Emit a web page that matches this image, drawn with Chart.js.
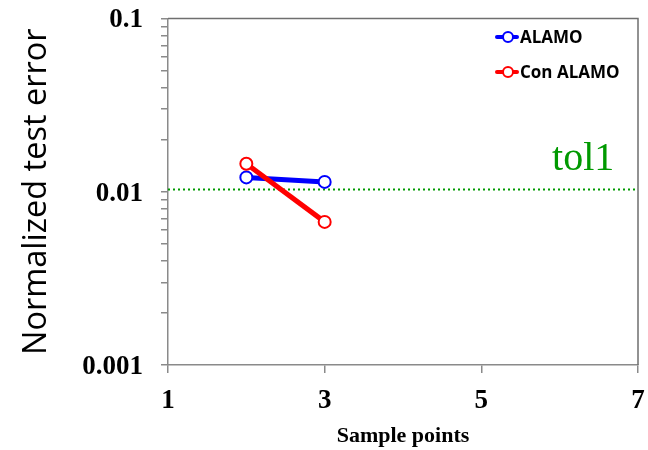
<!DOCTYPE html>
<html>
<head>
<meta charset="utf-8">
<script src="https://cdn.jsdelivr.net/npm/chart.js@4"></script>
<style>
  html, body { margin: 0; padding: 0; background: #fff; }
  #wrap { width: 648px; height: 450px; }
</style>
</head>
<body>
<div id="wrap"><canvas id="c" width="648" height="450"></canvas></div>
<script>
// Sample counts on the x axis and the normalized test error of each model
const xTicks = [1, 3, 5, 7];
const samplePoints = [2, 3];
const alamoError = [0.0121, 0.0114];
const conAlamoError = [0.0145, 0.0067];
const yDecades = [0.001, 0.01, 0.1];
const tolerance = 0.0103;
const toleranceLabel = 'tol1';

const GREEN = 'rgb(0,153,0)';
const AXIS_GRAY = '#8a8a8a';

// Caption above the tolerance line
const toleranceCaption = {
  id: 'toleranceCaption',
  afterDatasetsDraw(chart) {
    const { ctx, scales } = chart;
    const y = scales.y.getPixelForValue(tolerance);
    const x = scales.x.getPixelForValue(6.3);
    ctx.save();
    ctx.fillStyle = GREEN;
    ctx.font = '40px "Liberation Serif", "Times New Roman", serif';
    ctx.textAlign = 'center';
    ctx.textBaseline = 'alphabetic';
    ctx.fillText(toleranceLabel, x, y - 20);
    ctx.restore();
  }
};

// Frame around the plot area (top and right edges)
const plotFrame = {
  id: 'plotFrame',
  beforeDatasetsDraw(chart) {
    const { ctx, chartArea: a } = chart;
    ctx.save();
    ctx.strokeStyle = '#6f6f6f';
    ctx.lineWidth = 1.5;
    ctx.beginPath();
    ctx.moveTo(a.left, a.top);
    ctx.lineTo(a.right, a.top);
    ctx.lineTo(a.right, a.bottom);
    ctx.stroke();
    ctx.restore();
  }
};

// Legend drawn inside the plot: line + open circle, then the series name
const insideLegend = {
  id: 'insideLegend',
  afterDraw(chart) {
    const { ctx } = chart;
    const items = chart.data.datasets.filter(d => d.showInLegend);
    ctx.save();
    items.forEach((d, i) => {
      const y = 37 + i * 35;
      const x0 = 497, x1 = 517, cx = 508;
      ctx.strokeStyle = d.borderColor;
      ctx.lineWidth = 4;
      ctx.lineCap = 'round';
      ctx.beginPath();
      ctx.moveTo(x0, y);
      ctx.lineTo(x1, y);
      ctx.stroke();
      ctx.fillStyle = '#fff';
      ctx.lineWidth = 2;
      ctx.beginPath();
      ctx.arc(cx, y, 5, 0, Math.PI * 2);
      ctx.fill();
      ctx.stroke();
      ctx.fillStyle = '#000';
      ctx.font = 'bold 17px "Open Sans", sans-serif';
      ctx.textAlign = 'left';
      ctx.textBaseline = 'middle';
      ctx.fillText(d.label, 520, y + 1);
    });
    ctx.restore();
  }
};

const toXY = (xs, ys) => xs.map((x, i) => ({ x, y: ys[i] }));

new Chart(document.getElementById('c'), {
  type: 'line',
  data: {
    datasets: [
      {
        label: 'ALAMO',
        showInLegend: true,
        data: toXY(samplePoints, alamoError),
        borderColor: 'rgb(0,0,255)',
        backgroundColor: '#fff',
        borderWidth: 5,
        pointRadius: 6,
        pointBorderWidth: 2,
        pointBackgroundColor: '#fff',
        pointBorderColor: 'rgb(0,0,255)',
        order: 1
      },
      {
        label: 'Con ALAMO',
        showInLegend: true,
        data: toXY(samplePoints, conAlamoError),
        borderColor: 'rgb(255,0,0)',
        backgroundColor: '#fff',
        borderWidth: 5,
        pointRadius: 6,
        pointBorderWidth: 2,
        pointBackgroundColor: '#fff',
        pointBorderColor: 'rgb(255,0,0)',
        order: 0
      },
      {
        label: toleranceLabel,
        showInLegend: false,
        data: [{ x: xTicks[0], y: tolerance }, { x: xTicks[xTicks.length - 1], y: tolerance }],
        borderColor: GREEN,
        borderWidth: 2,
        borderDash: [2, 3],
        pointRadius: 0,
        order: 2
      }
    ]
  },
  options: {
    responsive: false,
    animation: false,
    events: [],
    layout: { padding: { left: 0, right: 10, top: 18.5, bottom: 0 } },
    plugins: { legend: { display: false }, tooltip: { enabled: false } },
    scales: {
      x: {
        type: 'linear',
        min: xTicks[0],
        max: xTicks[xTicks.length - 1],
        afterBuildTicks(scale) { scale.ticks = xTicks.map(v => ({ value: v })); },
        afterFit(scale) {
          scale.height = 85;
          scale.paddingLeft = 0;
          scale.paddingRight = 0;
        },
        grid: { drawOnChartArea: false, tickLength: 8, color: AXIS_GRAY, lineWidth: 1.5 },
        border: { color: AXIS_GRAY, width: 1.5 },
        ticks: {
          padding: 12,
          color: '#000',
          font: { family: '"Liberation Serif", "Times New Roman", serif', size: 27, weight: 'bold' }
        },
        title: {
          display: true,
          text: 'Sample points',
          color: '#000',
          padding: { top: 0, bottom: 0 },
          font: { family: '"Liberation Serif", "Times New Roman", serif', size: 22, weight: 'bold' }
        }
      },
      y: {
        type: 'logarithmic',
        min: yDecades[0],
        max: yDecades[yDecades.length - 1],
        afterBuildTicks(scale) {
          const t = [];
          for (let d = 0; d < yDecades.length - 1; d++) {
            for (let m = 1; m <= 9; m++) t.push({ value: yDecades[d] * m, major: m === 1 });
          }
          t.push({ value: yDecades[yDecades.length - 1], major: true });
          scale.ticks = t;
        },
        afterFit(scale) {
          scale.width = 168;
          scale.paddingTop = 0;
          scale.paddingBottom = 0;
        },
        grid: { drawOnChartArea: false, tickLength: 7, color: AXIS_GRAY, lineWidth: 1.5 },
        border: { color: AXIS_GRAY, width: 1.5 },
        ticks: {
          padding: 18,
          labelOffset: 2,
          color: '#000',
          autoSkip: false,
          callback(v) { return yDecades.includes(v) ? String(v) : ''; },
          font: { family: '"Liberation Serif", "Times New Roman", serif', size: 27, weight: 'bold' }
        },
        title: {
          display: true,
          text: 'Normalized test error',
          color: '#000',
          padding: { top: 17, bottom: 0 },
          font: { family: '"Open Sans", sans-serif', size: 32.5, weight: 'normal' }
        }
      }
    }
  },
  plugins: [plotFrame, toleranceCaption, insideLegend]
});
</script>
</body>
</html>
